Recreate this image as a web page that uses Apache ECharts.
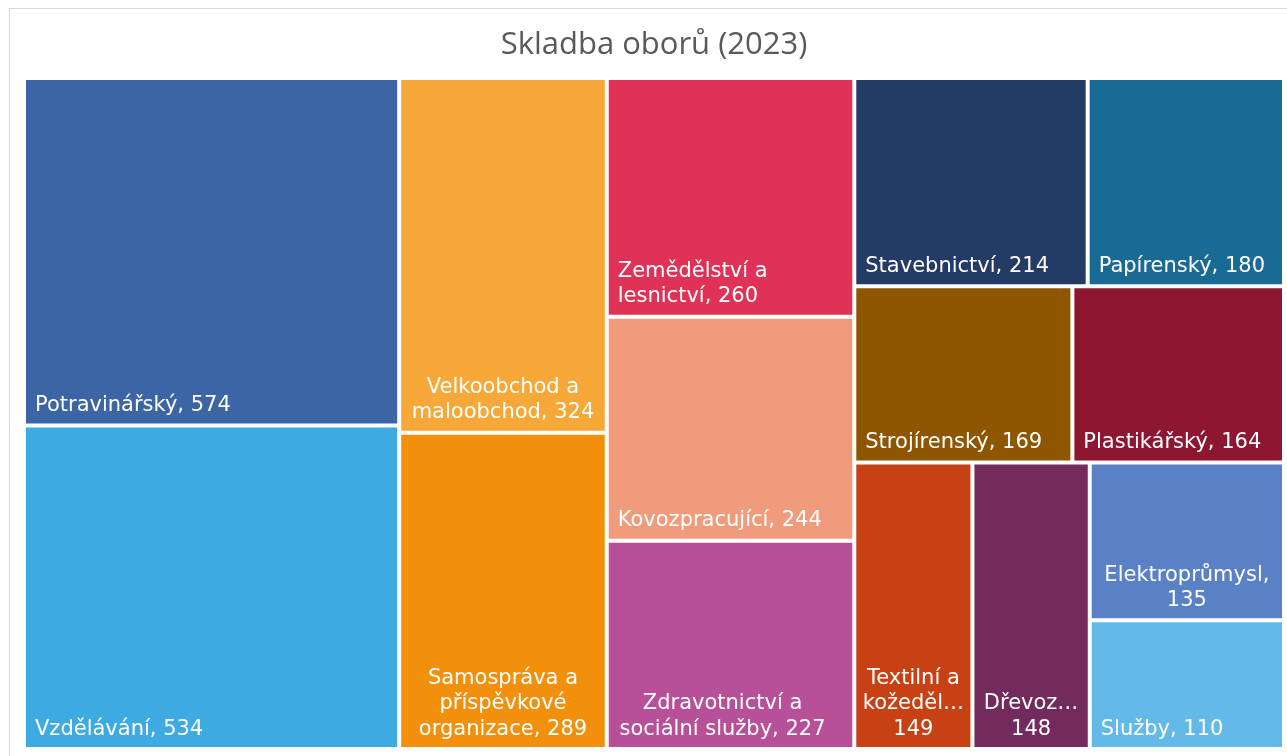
<!DOCTYPE html>
<html>
<head>
<meta charset="utf-8">
<title>Skladba oborů (2023)</title>
<script src="https://cdn.jsdelivr.net/npm/echarts@6/dist/echarts.min.js"></script>
<style>
  html, body { margin: 0; padding: 0; background: #fff; overflow: hidden; width: 1287px; height: 756px; }
  .frame { position: absolute; left: 9px; top: 8px; width: 1300px; height: 800px; border: 1px solid #d9d9d9; box-sizing: border-box; }
  #chart { position: absolute; left: 0; top: 0; width: 1287px; height: 756px; }
</style>
</head>
<body>
<div class="frame"></div>
<div id="chart"></div>
<script>
// obory a počty (2023)
const obory = ['Potravinářský', 'Vzdělávání', 'Velkoobchod a maloobchod', 'Samospráva a příspěvkové organizace',
  'Zemědělství a lesnictví', 'Kovozpracující', 'Zdravotnictví a sociální služby', 'Stavebnictví', 'Papírenský',
  'Strojírenský', 'Plastikářský', 'Textilní a kožedělný', 'Dřevozpracující', 'Elektroprůmysl', 'Služby'];
const pocty = [574, 534, 324, 289, 260, 244, 227, 214, 180, 169, 164, 149, 148, 135, 110];
// popisky tak, jak je zalomil / zkrátil Excel ({v} = hodnota)
const popisky = ['Potravinářský, {v}', 'Vzdělávání, {v}', 'Velkoobchod a\nmaloobchod, {v}',
  'Samospráva a\npříspěvkové\norganizace, {v}', 'Zemědělství a\nlesnictví, {v}', 'Kovozpracující, {v}',
  'Zdravotnictví a\nsociální služby, {v}', 'Stavebnictví, {v}', 'Papírenský, {v}', 'Strojírenský, {v}',
  'Plastikářský, {v}', 'Textilní a\nkožeděl…\n{v}', 'Dřevoz…\n{v}', 'Elektroprůmysl,\n{v}', 'Služby, {v}'];
const barvy = ['#3c65a5', '#3daae1', '#f8a838', '#f2900c', '#e03256', '#f19b7d', '#b75099', '#243b65',
  '#1a6a96', '#8f5600', '#8d1730', '#c84114', '#722b5c', '#5a81c5', '#63b9e7'];
// víceřádkové popisky, které jsou vycentrované
const naStred = [2, 3, 6, 11, 12, 13];
// pomocné skupiny, aby dlaždice ležely jako v Excelu
const skupiny = [[0, 1], [[2, 3], [[4, 5, 6], [[7, 8], [[9, 10], [11, [12, [13, 14]]]]]]]];

function uzel(s) {
  if (typeof s === 'number') {
    const stred = naStred.indexOf(s) >= 0;
    return {
      name: obory[s],
      value: pocty[s],
      popisek: popisky[s],
      itemStyle: { color: barvy[s], borderColor: '#fff', borderWidth: 2 },
      label: {
        position: stred ? 'insideBottom' : 'insideBottomLeft',
        // zdravotnictví má v Excelu blok zarovnaný vlevo
        offset: s === 6 ? [-8, 0] : [0, 0]
      }
    };
  }
  const children = s.map(uzel);
  return { name: '', value: children.reduce((a, c) => a + c.value, 0), children: children };
}

const chart = echarts.init(document.getElementById('chart'));
chart.setOption({
  animation: false,
  title: {
    text: 'Skladba oborů (2023)',
    left: 649,
    textAlign: 'center',
    top: 25,
    textStyle: { fontFamily: 'Open Sans', fontSize: 31, fontWeight: 'normal', color: '#595959' }
  },
  series: [{
    type: 'treemap',
    left: 24,
    top: 78,
    width: 1260,
    height: 671,
    sort: false,
    squareRatio: 1,
    roam: false,
    nodeClick: false,
    silent: true,
    breadcrumb: { show: false },
    itemStyle: { borderWidth: 0, gapWidth: 0 },
    emphasis: { disabled: true },
    label: {
      show: true,
      distance: 0,
      padding: [0, 9, 5, 9],
      color: '#fff',
      fontFamily: 'DejaVu Sans',
      fontSize: 21,
      lineHeight: 25.5,
      overflow: 'none',
      formatter: p => (p.data && p.data.popisek) ? p.data.popisek.replace('{v}', p.value) : ''
    },
    data: skupiny.map(uzel)
  }]
});
</script>
</body>
</html>
